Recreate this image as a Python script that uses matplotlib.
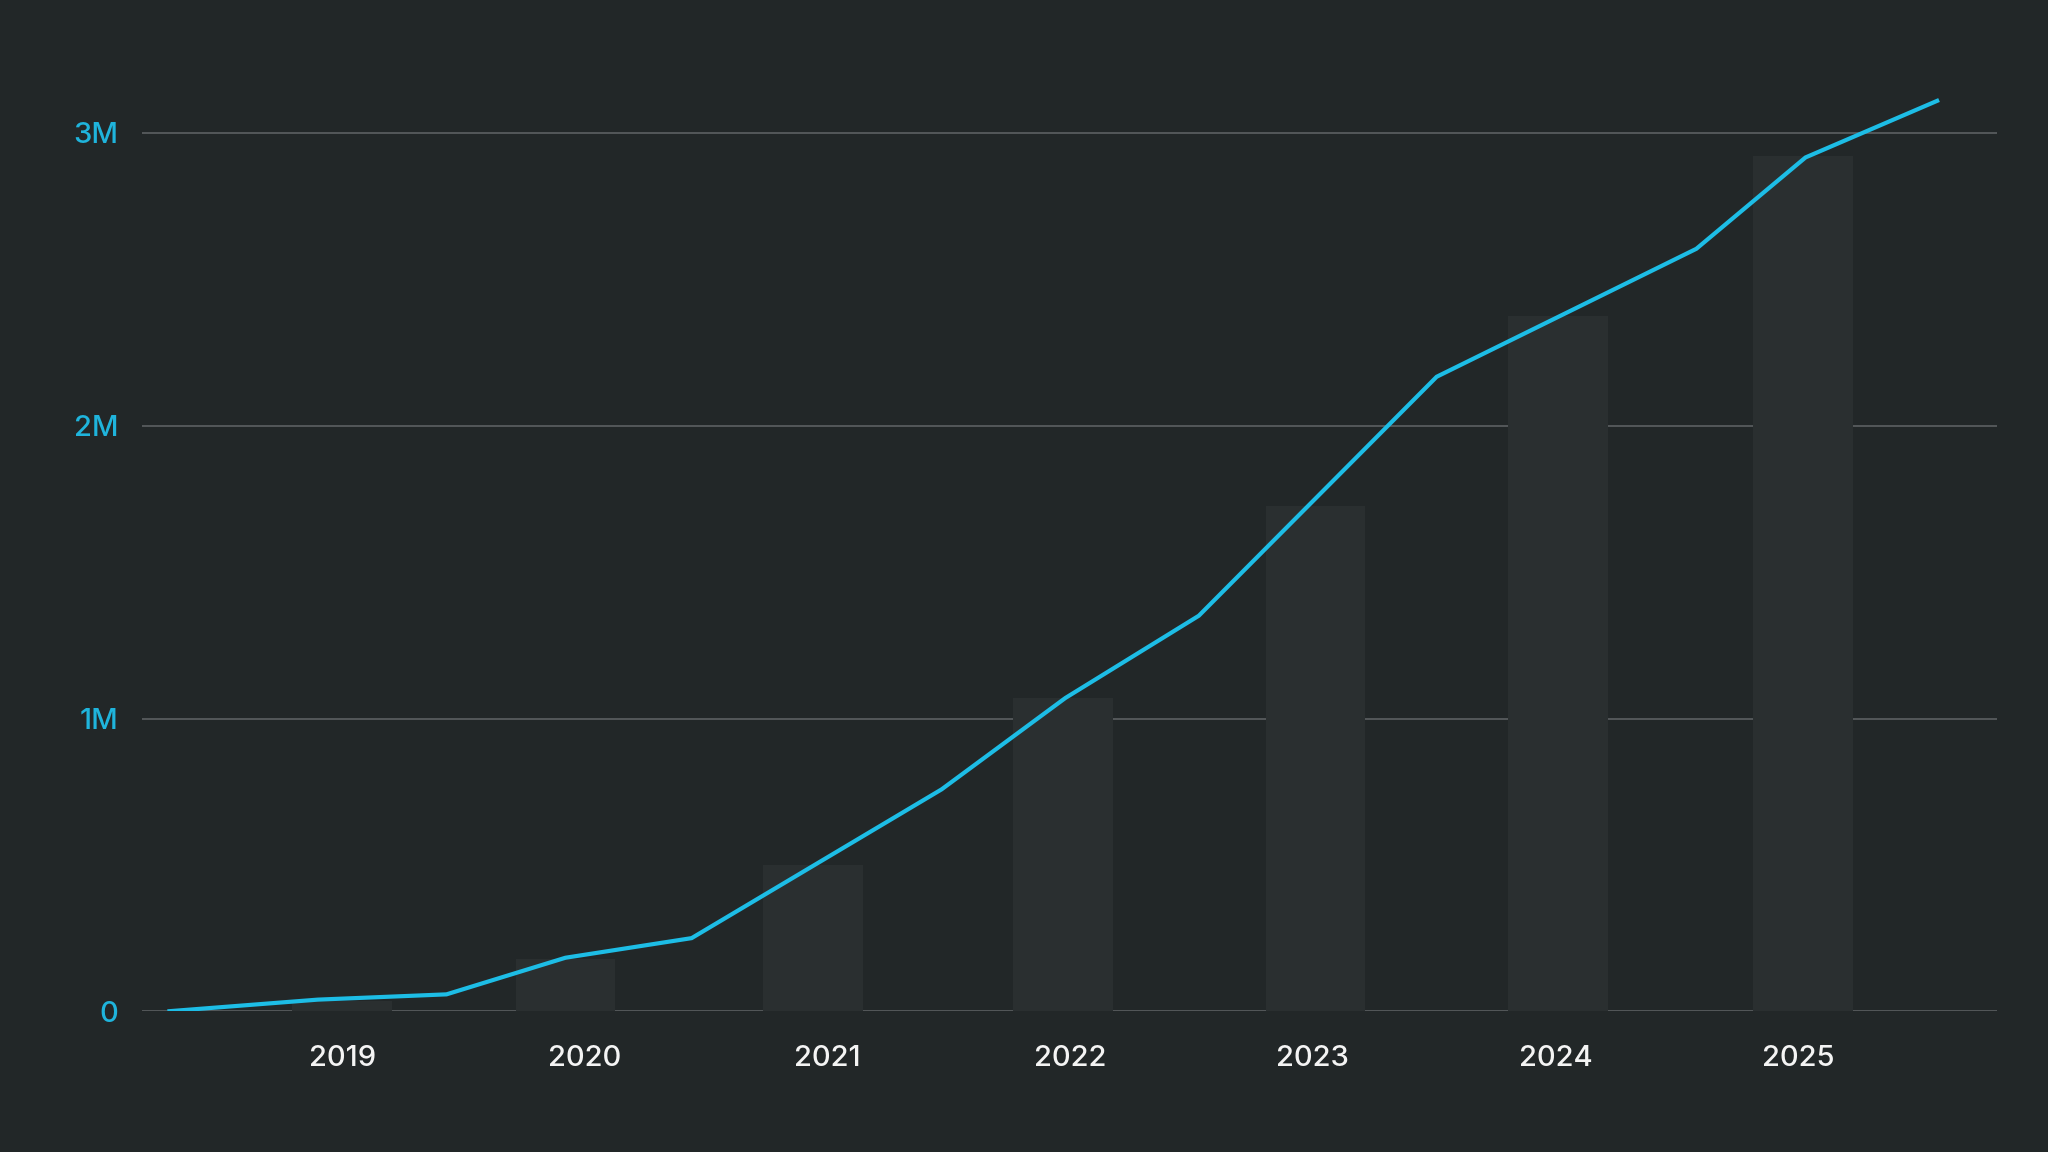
import numpy as np
import matplotlib
matplotlib.use('Agg')
import matplotlib.pyplot as plt
from matplotlib.ticker import FuncFormatter

# yearly bars (millions); bar centres sit a little off the year ticks
years = [2019, 2020, 2021, 2022, 2023, 2024, 2025]
bar_x = [2019.0, 2019.92, 2020.94, 2021.97, 2023.01, 2024.01, 2025.02]
bar_values = [0.035, 0.18, 0.50, 1.07, 1.725, 2.375, 2.92]

# cumulative line, x as fractional year, y in millions
line_x = [2018.28, 2018.90, 2019.43, 2019.92, 2020.44, 2021.47,
          2021.98, 2022.53, 2023.51, 2024.58, 2025.03, 2025.58]
line_y = [0.0, 0.040, 0.058, 0.183, 0.250, 0.758,
          1.070, 1.351, 2.167, 2.604, 2.916, 3.112]

y_ticks = [0, 1, 2, 3]

bg = '#222728'
plt.rcParams['font.family'] = ['Inter', 'DejaVu Sans']

fig = plt.figure(figsize = (20.48, 11.52), dpi = 100, facecolor = bg)
ax = fig.add_axes([0.0693, 0.1221, 0.975 - 0.0693, 0.2542 * 3.3])
ax.set_facecolor(bg)

ax.set_yticks(y_ticks)
ax.grid(axis = 'y', color = '#5c6062', linewidth = 1.2, zorder = 0)
ax.set_axisbelow(True)

ax.bar(bar_x, bar_values, width = 0.41, color = '#2a2f30', zorder = 2)
ax.plot(line_x, line_y, color = '#1dbde6', linewidth = 3.0, zorder = 3,
        solid_capstyle = 'butt', solid_joinstyle = 'miter')

ax.set_xlim(2018.175, 2025.818)
ax.set_ylim(0, 3.3)
ax.set_xticks(years)
ax.set_xticklabels([str(y) for y in years], fontweight = 'medium')
ax.yaxis.set_major_formatter(FuncFormatter(lambda v, p: '0' if v == 0 else '%dM' % v))
for t in ax.get_yticklabels():
    t.set_fontweight('medium')

ax.tick_params(axis = 'x', length = 0, pad = 24, labelsize = 21, labelcolor = '#f4f4f4')
ax.tick_params(axis = 'y', length = 0, pad = 17, labelsize = 21, labelcolor = '#1fb4dc')
for s in ax.spines.values():
    s.set_visible(False)

plt.savefig('out.png', dpi = 100, facecolor = bg)
